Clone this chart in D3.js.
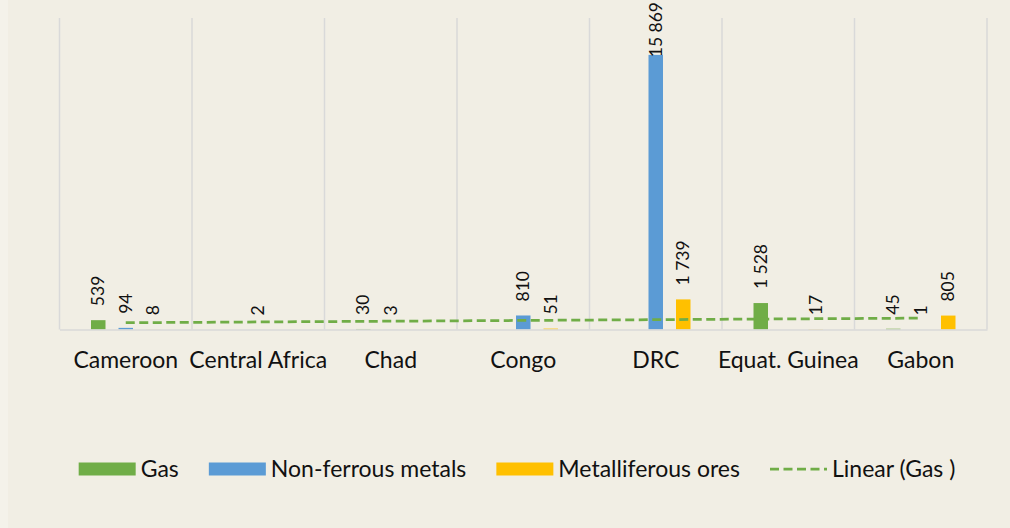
<!DOCTYPE html>
<html>
<head>
<meta charset="utf-8">
<script src="https://cdn.jsdelivr.net/npm/d3@7"></script>
<style>
  html, body { margin: 0; padding: 0; background: #f4f2ea; }
  svg { display: block; font-family: Lato, "Open Sans", sans-serif; }
</style>
</head>
<body>
<svg id="chart" width="1010" height="528"></svg>
<script>
// Exports by country and product group
const categories = ["Cameroon", "Central Africa", "Chad", "Congo", "DRC", "Equat. Guinea", "Gabon"];
const seriesNames = ["Gas", "Non-ferrous metals", "Metalliferous ores"];
const gas         = [539,  null, 30,   null, null,  1528, 45];
const nonFerrous  = [94,   2,    3,    810,  15869, null, 1];
const metalOres   = [8,    null, null, 51,   1739,  17,   805];
const yTicks      = [0, 18000];
const trendName   = "Linear (Gas )";

const colors = ["#70ad47", "#5b9bd5", "#ffc000"];
const seriesValues = [gas, nonFerrous, metalOres];

const svg = d3.select("#chart");
const W = 1010, H = 528;
const plot = { left: 59.5, right: 987, top: 18, bottom: 329.5 };

// chart area background
svg.append("rect").attr("x", 8).attr("y", 0).attr("width", W - 8).attr("height", H)
  .attr("fill", "#f1eee4");

const x0 = d3.scaleBand().domain(categories).range([plot.left, plot.right]).padding(0);
const groupWidth = x0.bandwidth() * 0.6226;
const x1 = d3.scaleBand().domain(seriesNames).range([-groupWidth / 2, groupWidth / 2])
  .paddingInner(0.473).paddingOuter(0.2365);
const y = d3.scaleLinear().domain(d3.extent(yTicks)).range([plot.bottom, plot.top]);

// vertical separators between categories
const bounds = categories.map(c => x0(c)).concat([plot.right]);
svg.append("g").selectAll("line").data(bounds).join("line")
  .attr("x1", d => d).attr("x2", d => d)
  .attr("y1", plot.top).attr("y2", plot.bottom)
  .attr("stroke", "#d9d9d9").attr("stroke-width", 1.5);

// bars
const rows = [];
seriesNames.forEach((s, si) => {
  categories.forEach((c, ci) => {
    const v = seriesValues[si][ci];
    if (v !== null) rows.push({ series: s, si, cat: c, ci, value: v });
  });
});

svg.append("g").selectAll("rect").data(rows).join("rect")
  .attr("x", d => x0(d.cat) + x0.bandwidth() / 2 + x1(d.series))
  .attr("width", x1.bandwidth())
  .attr("y", d => y(d.value))
  .attr("height", d => y(0) - y(d.value))
  .attr("fill", d => colors[d.si]);

// category axis
const xAxis = d3.axisBottom(x0).tickSize(0).tickPadding(0);
const gx = svg.append("g").attr("transform", `translate(0,${plot.bottom})`).call(xAxis);
gx.select(".domain").attr("stroke", "#d9d9d9").attr("stroke-width", 1.5);
gx.selectAll("text").attr("font-size", 23).attr("fill", "#111")
  .attr("font-family", "Lato, sans-serif").attr("dy", null).attr("y", 38);

// linear trendline through the gas values (least squares over non-empty points)
const pts = gas.map((v, i) => ({ x: i + 1, v })).filter(p => p.v !== null);
const mx = d3.mean(pts, p => p.x), my = d3.mean(pts, p => p.v);
const slope = d3.sum(pts, p => (p.x - mx) * (p.v - my)) / d3.sum(pts, p => (p.x - mx) ** 2);
const intercept = my - slope * mx;
const trend = categories.map((c, i) => ({ c, v: intercept + slope * (i + 1) }));
const line = d3.line().x(d => x0(d.c) + x0.bandwidth() / 2).y(d => y(d.v));
svg.append("path").datum([trend[0], trend[trend.length - 1]])
  .attr("d", line).attr("fill", "none")
  .attr("stroke", "#70ad47").attr("stroke-width", 2.75).attr("stroke-dasharray", "9,4.5");

// data labels, rotated
const fmt = d3.formatLocale({ decimal: ".", thousands: "\u00a0", grouping: [3], currency: ["", ""] }).format(",");
const labels = svg.append("g").selectAll("text").data(rows).join("text")
  .text(d => fmt(d.value).replace(/\u00a0/g, " "))
  .attr("font-size", 17.5).attr("fill", "#111")
  .attr("text-anchor", "start").attr("dy", "0.35em");
labels.each(function (d) {
  const len = this.getComputedTextLength();
  const cx = x0(d.cat) + x0.bandwidth() / 2 + x1(d.series) + x1.bandwidth() / 2;
  let ly = y(d.value) - 14;
  if (ly - len < 2) ly = 2 + len;
  d3.select(this).attr("transform", `translate(${cx},${ly}) rotate(-90)`);
});

// legend
const legendItems = seriesNames.map((s, i) => ({ name: s, type: "bar", color: colors[i] }))
  .concat([{ name: trendName, type: "line", color: "#70ad47" }]);
const lg = svg.append("g");
const swW = 57, swH = 13, swGap = 5, itemGap = 30, legendY = 469;
const items = lg.selectAll("g").data(legendItems).join("g");
items.each(function (d) {
  const g = d3.select(this);
  if (d.type === "bar") {
    g.append("rect").attr("x", 0).attr("y", legendY - swH / 2).attr("width", swW).attr("height", swH)
      .attr("fill", d.color);
  } else {
    g.append("line").attr("x1", 0).attr("x2", swW).attr("y1", legendY).attr("y2", legendY)
      .attr("stroke", d.color).attr("stroke-width", 2.75).attr("stroke-dasharray", "9,4.5");
  }
  g.append("text").attr("x", swW + swGap).attr("y", legendY).attr("dy", "0.36em")
    .attr("font-size", 23).attr("fill", "#111").text(d.name);
});
let widths = [];
items.each(function () { widths.push(this.getBBox().width); });
const total = d3.sum(widths) + itemGap * (widths.length - 1);
let cursor = 517 - total / 2;
items.each(function (d, i) {
  d3.select(this).attr("transform", `translate(${cursor},0)`);
  cursor += widths[i] + itemGap;
});
</script>
</body>
</html>
